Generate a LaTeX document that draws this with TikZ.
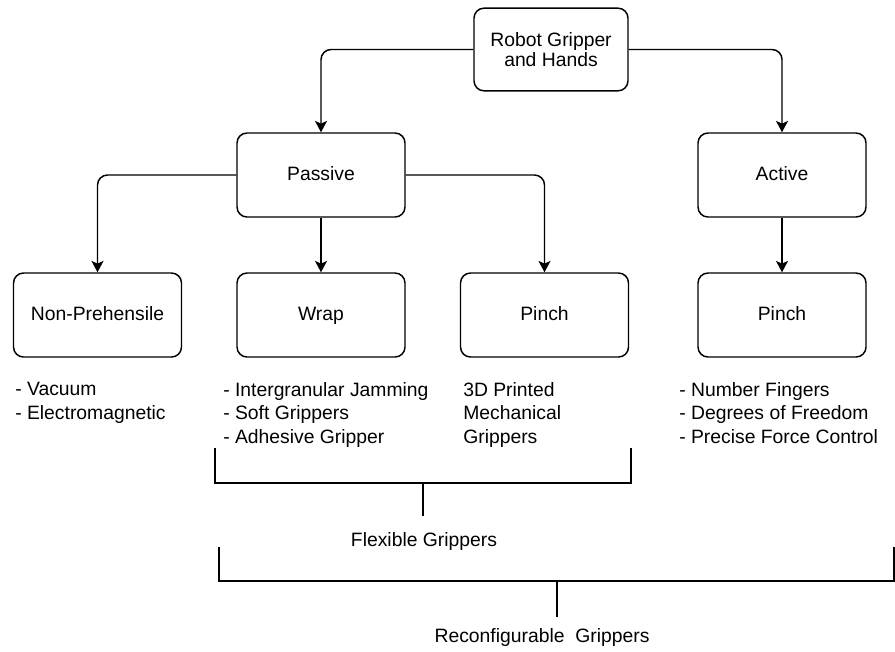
\documentclass[tikz,border=0pt]{standalone}
\usepackage{fontspec}
\setmainfont{Liberation Sans}
\usetikzlibrary{arrows.meta}

\begin{document}
\begin{tikzpicture}[x=0.75pt,y=0.75pt,yscale=-1,xscale=1,
  box/.style={draw, rounded corners=7.5pt, line width=1.1pt, minimum width=126pt, minimum height=63pt, align=center, inner sep=0pt, font=\fontsize{14.5}{15}\selectfont},
  onerow/.style={box, text height=10.4pt, text depth=2.2pt},
  conn/.style={line width=1.1pt, rounded corners=7.5pt, -{Stealth[length=8.5pt,width=9pt,inset=2pt]}},
  notes/.style={anchor=north west, inner sep=0pt, align=left, font=\fontsize{14.5}{17.6}\selectfont},
  bracket/.style={line width=1.9pt},
  grouplabel/.style={inner sep=0pt, font=\fontsize{14.5}{17.6}\selectfont}]
%set diagram size to the reference
\useasboundingbox (0,0) rectangle (895,651);

%Rounded Rect 
\node [box, minimum width=115.5pt, minimum height=62pt] (robot) at (551,49.5) {Robot Gripper\\and Hands};
%Rounded Rect 
\node [onerow] (passive) at (321,175) {Passive};
%Rounded Rect 
\node [onerow] (active) at (782,175) {Active};
%Rounded Rect 
\node [onerow] (nonpre) at (97.5,315) {Non-Prehensile};
%Rounded Rect 
\node [onerow] (wrap) at (321,315) {Wrap};
%Rounded Rect 
\node [onerow] (pinchp) at (544.5,315) {Pinch};
%Rounded Rect 
\node [onerow] (pincha) at (782,315) {Pinch};

%Connectors
\draw [conn] (robot.west) -| (passive.north);
\draw [conn] (robot.east) -| (active.north);
\draw [conn] (passive.west) -| (nonpre.north);
\draw [conn] (passive.south) -- (wrap.north);
\draw [conn] (passive.east) -| (pinchp.north);
\draw [conn] (active.south) -- (pincha.north);

% Text Node
\node [notes] (nonprelist) at (15,382) {- Vacuum\\- Electromagnetic};
% Text Node
\node [notes] (wraplist) at (223,382) {- Intergranular Jamming\\- Soft Grippers\\- Adhesive Gripper};
% Text Node
\node [notes] (pinchplist) at (463,382) {3D Printed\\Mechanical\\Grippers};
% Text Node
\node [notes] (pinchalist) at (679,382) {- Number Fingers\\- Degrees of Freedom\\- Precise Force Control};

%Flexible bracket
\coordinate (flexL) at (215,448);
\coordinate (flexR) at (631,448);
\coordinate (flexM) at (423,483);
\coordinate (flexS) at (423,516);
\draw [bracket] (flexL) |- (flexM) -| (flexR);
\draw [bracket] (flexM) -- (flexS);
% Text Node
\node [grouplabel] (flexible) at (424,541) {Flexible Grippers};

%Reconfigurable bracket
\coordinate (reconL) at (219,547);
\coordinate (reconR) at (894,547);
\coordinate (reconM) at (557,581);
\coordinate (reconS) at (557,617);
\draw [bracket] (reconL) |- (reconM) -| (reconR);
\draw [bracket] (reconM) -- (reconS);
% Text Node
\node [grouplabel] (reconfig) at (542,637) {Reconfigurable~ Grippers};
\end{tikzpicture}
\end{document}
